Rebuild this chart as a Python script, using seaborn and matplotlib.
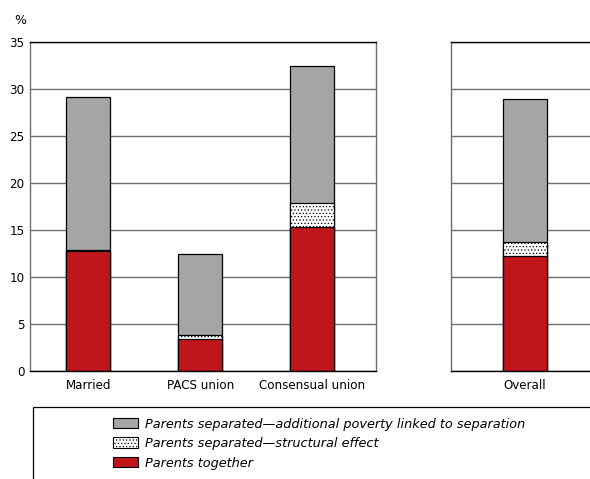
import matplotlib
matplotlib.use("Agg")
import matplotlib.pyplot as plt
import matplotlib.patches as mpatches
import numpy as np
import pandas as pd
import seaborn as sns

# Data
categories = ["Married", "PACS union", "Consensual union"]
together = [12.8, 3.4, 15.3]
structural = [0.1, 0.4, 2.6]
additional = [16.3, 8.7, 14.5]

overall_label = ["Overall"]
overall_together = [12.2]
overall_structural = [1.5]
overall_additional = [15.2]

y_ticks = [0, 5, 10, 15, 20, 25, 30, 35]
legend_labels = [
    "Parents separated\u2014additional poverty linked to separation",
    "Parents separated\u2014structural effect",
    "Parents together",
]

RED = "#c0161a"
GREY = "#a5a5a4"
GRID = "#6e6e6e"

sns.set_theme(style="white")
plt.rcParams["font.family"] = ["DejaVu Sans"]
plt.rcParams["text.color"] = "black"
plt.rcParams["hatch.color"] = "#666666"
plt.rcParams["hatch.linewidth"] = 0.5


def stacked(ax, labels, tog, struc, add, xlim):
    df = pd.DataFrame({
        "cat": labels,
        "together": tog,
        "mid": np.array(tog) + np.array(struc),
        "total": np.array(tog) + np.array(struc) + np.array(add),
    })
    sns.barplot(data=df, x="cat", y="total", color=GREY, width=0.39,
                edgecolor="black", linewidth=0.9, saturation=1, ax=ax)
    n = len(ax.patches)
    sns.barplot(data=df, x="cat", y="mid", color="white", width=0.39,
                edgecolor="black", linewidth=0.9, saturation=1, ax=ax)
    for p in ax.patches[n:]:
        p.set_hatch(".....")
    sns.barplot(data=df, x="cat", y="together", color=RED, width=0.39,
                edgecolor="black", linewidth=0.9, saturation=1, ax=ax)
    ax.set_xlim(*xlim)
    ax.set_ylim(0, 35)
    ax.set_yticks(y_ticks)
    ax.set_axisbelow(True)
    ax.yaxis.grid(True, color=GRID, linewidth=1.0)
    ax.set_xlabel("")
    ax.set_ylabel("")
    ax.tick_params(axis="both", length=0, labelsize=8.6, colors="black")
    ax.tick_params(axis="x", pad=6)
    ax.tick_params(axis="y", pad=4)
    for side in ["left", "right"]:
        ax.spines[side].set_color(GRID)
        ax.spines[side].set_linewidth(1.0)
    for side in ["top", "bottom"]:
        ax.spines[side].set_color("black")
        ax.spines[side].set_linewidth(1.0)


fig = plt.figure(figsize=(5.9, 4.79), dpi=100)

ax1 = fig.add_axes([30 / 590, 1 - 371 / 479, 346 / 590, 329 / 479])
stacked(ax1, categories, together, structural, additional, (-0.52, 2.57))

ax2 = fig.add_axes([451 / 590, 1 - 371 / 479, 145 / 590, 329 / 479])
stacked(ax2, overall_label, overall_together, overall_structural,
        overall_additional, (-0.66, 0.63))
ax2.set_yticklabels([])
ax2.spines["right"].set_visible(False)

fig.text(14 / 590, 1 - 20 / 479, "%", fontsize=9, va="center", ha="left")

# legend box
box = mpatches.Rectangle((33 / 590, -0.05), 1.0, 1 - 407 / 479 + 0.05,
                         transform=fig.transFigure, facecolor="white",
                         edgecolor="black", linewidth=0.9)
fig.patches.append(box)

handles = [
    mpatches.Patch(facecolor=GREY, edgecolor="black", linewidth=0.8),
    mpatches.Patch(facecolor="white", edgecolor="black", linewidth=0.8, hatch="....."),
    mpatches.Patch(facecolor=RED, edgecolor="black", linewidth=0.8),
]
fig.legend(handles, legend_labels, loc="upper left",
           bbox_to_anchor=(110 / 590, 1 - 415 / 479), frameon=False,
           prop={"style": "italic", "size": 9.3}, handlelength=2.0,
           handleheight=0.9, handletextpad=0.5, labelspacing=0.5,
           borderaxespad=0, borderpad=0.2)

fig.savefig("out.png", dpi=100)
